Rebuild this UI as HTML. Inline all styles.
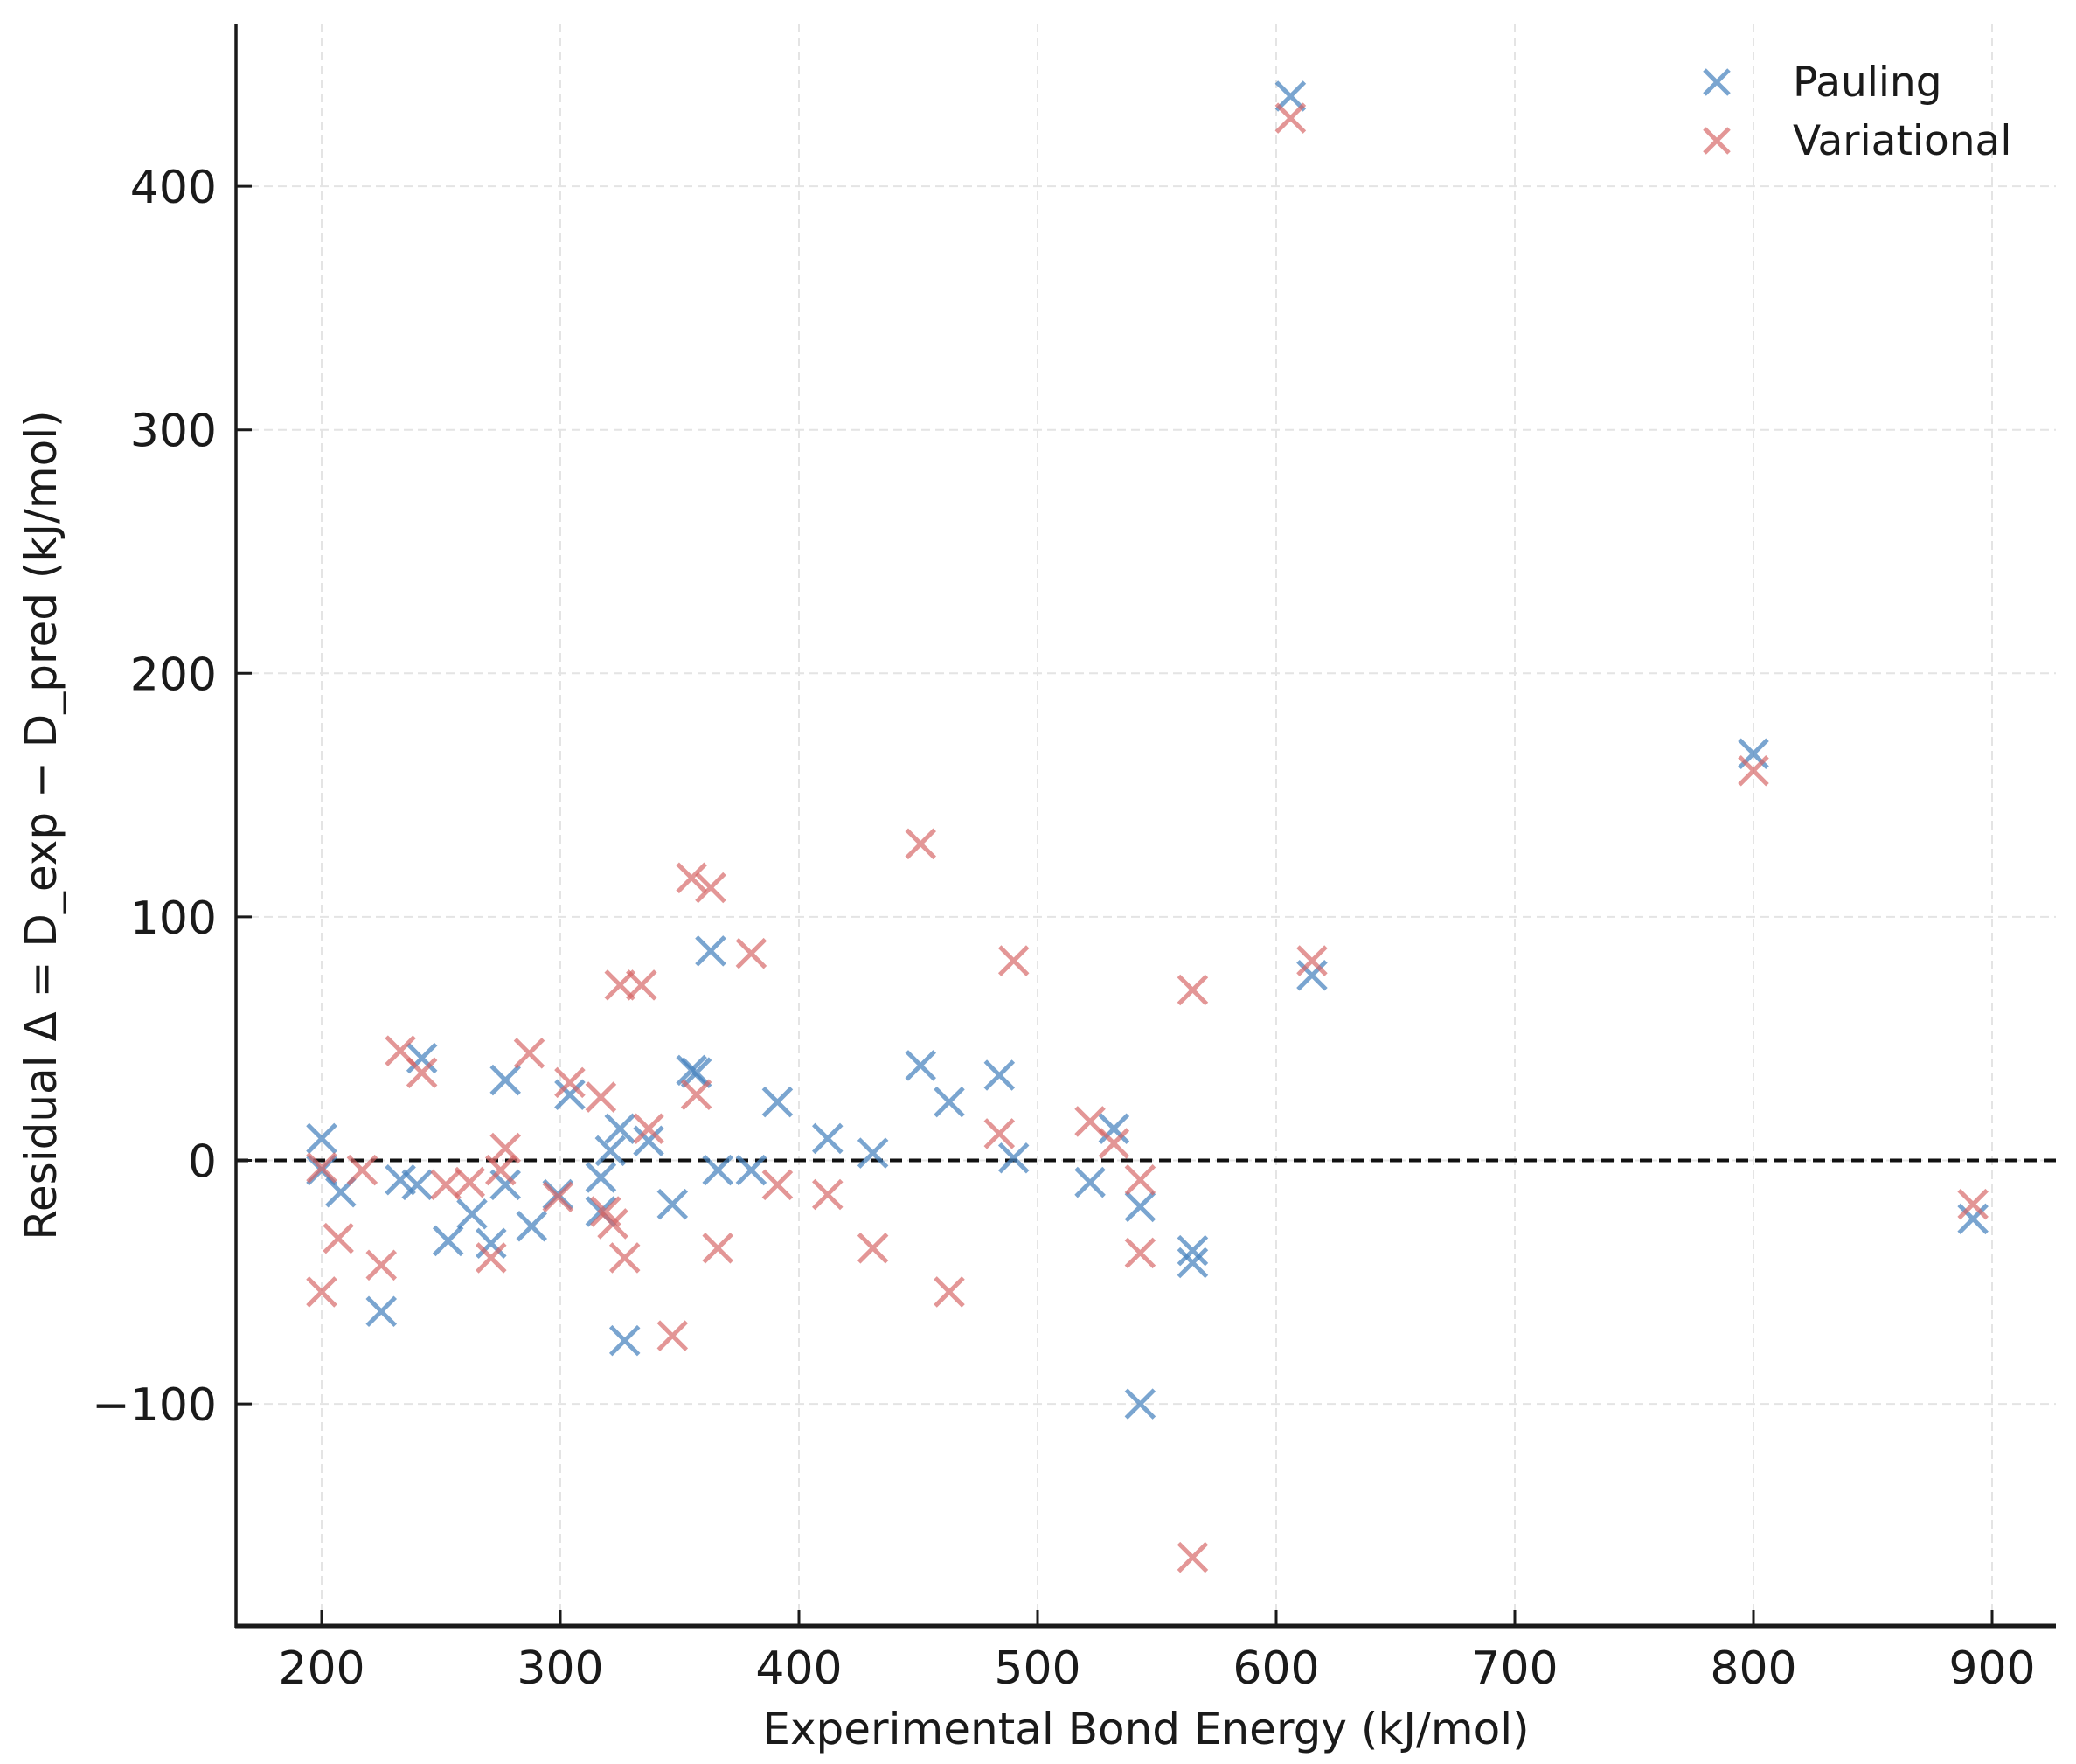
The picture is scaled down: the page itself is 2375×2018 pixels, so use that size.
<!DOCTYPE html>
<html><head><meta charset="utf-8"><style>
html,body{margin:0;padding:0;background:#fff;}
svg{display:block;font-family:"DejaVu Sans","Liberation Sans",sans-serif;}
</style></head><body>
<svg id="chart" width="2375" height="2018" viewBox="0 0 2375 2018"></svg>
<script>
const xTicks=[200,300,400,500,600,700,800,900];
const yTicks=[-100,0,100,200,300,400];
const paulingX=[200,200,208,233,242,253,263,271,277,277,288,299,304,317,317,321,325,327,337,347,355,357,363,366,380,391,412,431,451,463,484,490,522,532,543,543,565,565,606,615,800,892,225,240];
const paulingY=[9,-4,-13,-8,42,-33,-22,-34,33,-10,-27,-14,27,-7,-21,4,13,-74,8,-18,37,36,86,-4,-4,24,9,3,39,24,35,1,-9,13,-19,-100,-37,-42,437,76,167,-24,-62,-10];
const variationalX=[200,200,207,217,225,233,242,252,262,271,275,277,287,299,304,317,319,322,325,327,334,337,347,355,357,363,366,380,391,412,431,451,463,484,490,522,532,543,543,565,565,606,615,800,892];
const variationalY=[-54,-3,-32,-4,-43,45,36,-10,-9,-40,-4,5,44,-15,32,26,-21,-26,72,-40,72,13,-72,116,27,112,-36,85,-10,-14,-36,130,-54,11,82,16,7,-8,-38,70,-163,428,82,160,-18];

const NS="http://www.w3.org/2000/svg";
const svg=document.getElementById('chart');
const L=270,R=2352,T=27,B=1860;
function sx(v){return 368+(v-200)*2.73;}
function sy(v){return 1327.5-v*2.786;}
function mk(tag,attrs,parent){const e=document.createElementNS(NS,tag);for(const k in attrs)e.setAttribute(k,attrs[k]);(parent||svg).appendChild(e);return e;}

// grid
const grid=mk('g',{});


xTicks.forEach(v=>{mk('line',{x1:sx(v),x2:sx(v),y1:T,y2:B,stroke:'#e4e4e4','stroke-width':2,'stroke-dasharray':'10,6'},grid);});
yTicks.forEach(v=>{mk('line',{x1:L,x2:R,y1:sy(v),y2:sy(v),stroke:'#e4e4e4','stroke-width':2,'stroke-dasharray':'10,6'},grid);});

// zero line
const zl=mk('line',{x1:L,x2:R,y1:sy(0),y2:sy(0),stroke:'#111','stroke-width':4,'stroke-dasharray':'14,8'});



// markers
function cross(g,x,y,color,name){
  const c=mk('g',{},g);
  
  
  const h=16;
  mk('path',{d:`M${x-h},${y-h}L${x+h},${y+h}M${x-h},${y+h}L${x+h},${y-h}`,stroke:color,'stroke-width':5,fill:'none'},c);
}
const gp=mk('g',{});


paulingX.forEach((v,i)=>cross(gp,sx(v),sy(paulingY[i]),'rgba(70,130,190,0.72)','pauling-point'));
const gv=mk('g',{});


variationalX.forEach((v,i)=>cross(gv,sx(v),sy(variationalY[i]),'rgba(214,100,100,0.68)','variational-point'));

// axes
const ax=mk('g',{});


mk('line',{x1:L,x2:L,y1:T,y2:B+2,stroke:'#1a1a1a','stroke-width':3.5},ax);
mk('line',{x1:L-1,x2:R,y1:B,y2:B,stroke:'#1a1a1a','stroke-width':5},ax);
xTicks.forEach(v=>{
  mk('line',{x1:sx(v),x2:sx(v),y1:B,y2:B-18,stroke:'#1a1a1a','stroke-width':3},ax);
  const t=mk('text',{x:sx(v),y:1926,'text-anchor':'middle','font-size':52,fill:'#1a1a1a'},ax);
  t.textContent=v;
  
  
});
yTicks.forEach(v=>{
  mk('line',{x1:L,x2:L+18,y1:sy(v),y2:sy(v),stroke:'#1a1a1a','stroke-width':3},ax);
  const t=mk('text',{x:248,y:sy(v)+19,'text-anchor':'end','font-size':52,fill:'#1a1a1a'},ax);
  t.textContent=v<0?'\u2212'+Math.abs(v):v;
  
  
});
</script>
<script>
(function(){
const NS="http://www.w3.org/2000/svg";
const svg=document.getElementById('chart');
const xl=document.createElementNS(NS,'text');
xl.setAttribute('x',1311);xl.setAttribute('y',1995);xl.setAttribute('text-anchor','middle');xl.setAttribute('font-size',50);xl.setAttribute('fill','#1a1a1a');
xl.textContent='Experimental Bond Energy (kJ/mol)';


svg.appendChild(xl);
const yl=document.createElementNS(NS,'text');
yl.setAttribute('transform','translate(64,944) rotate(-90)');yl.setAttribute('text-anchor','middle');yl.setAttribute('font-size',50);yl.setAttribute('fill','#1a1a1a');
yl.textContent='Residual \u0394 = D_exp \u2212 D_pred (kJ/mol)';


svg.appendChild(yl);
const lg=document.createElementNS(NS,'g');


svg.appendChild(lg);
[['Pauling','rgba(70,130,190,0.72)',94],['Variational','rgba(214,100,100,0.68)',161]].forEach(([name,c,y])=>{
  const e=document.createElementNS(NS,'g');
  
  
  const p=document.createElementNS(NS,'path');
  p.setAttribute('d',`M${1964-14},${y-14}L${1964+14},${y+14}M${1964-14},${y+14}L${1964+14},${y-14}`);
  p.setAttribute('stroke',c);p.setAttribute('stroke-width',5);
  e.appendChild(p);
  const t=document.createElementNS(NS,'text');
  t.setAttribute('x',2051);t.setAttribute('y',y+16);t.setAttribute('font-size',47);t.setAttribute('fill','#1a1a1a');
  t.textContent=name;
  e.appendChild(t);
  lg.appendChild(e);
});
})();
</script>
</body></html>
